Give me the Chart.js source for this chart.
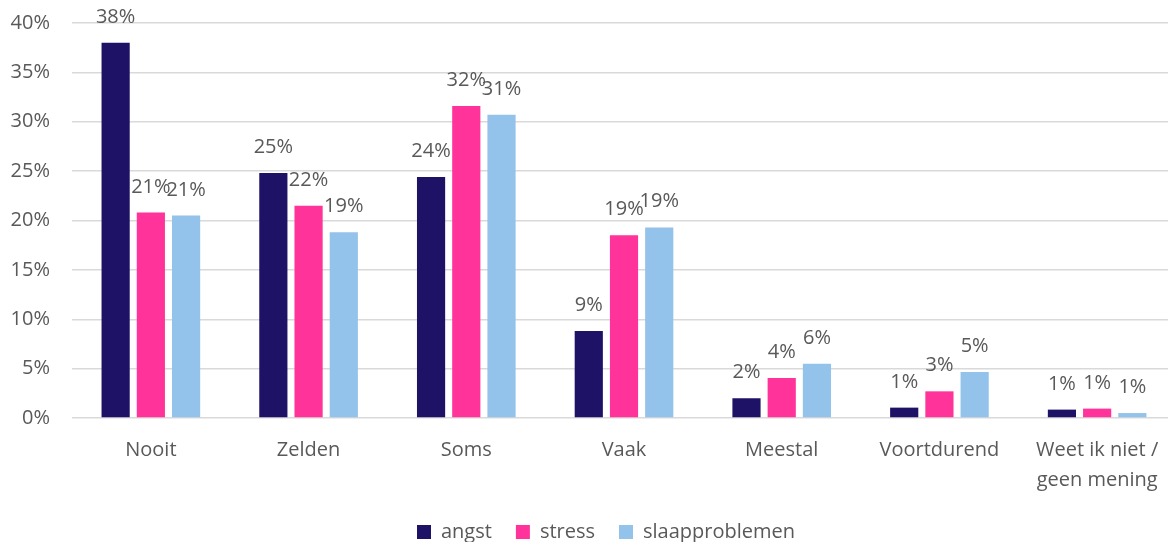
<!DOCTYPE html>
<html>
<head>
<meta charset="utf-8">
<script src="https://cdn.jsdelivr.net/npm/chart.js@4/dist/chart.umd.min.js"></script>
<style>
  html, body { margin: 0; padding: 0; background: #fff; overflow: hidden; }
  #wrap { width: 1176px; height: 542px; }
</style>
</head>
<body>
<div id="wrap"><canvas id="chart"></canvas></div>
<script>
const categories = ['Nooit', 'Zelden', 'Soms', 'Vaak', 'Meestal', 'Voortdurend', ['Weet ik niet /', 'geen mening']];
const angst = [38.0, 24.8, 24.4, 8.8, 2.0, 1.05, 0.85];
const stress = [20.8, 21.5, 31.6, 18.5, 4.06, 2.7, 0.95];
const slaapproblemen = [20.5, 18.8, 30.7, 19.3, 5.5, 4.67, 0.5];
const yTicks = [0, 5, 10, 15, 20, 25, 30, 35, 40];

const FONT = '"Open Sans", "Noto Sans", sans-serif';
const TEXT = '#595959';

// value labels above each bar
const valueLabels = {
  id: 'valueLabels',
  afterDatasetsDraw(chart) {
    const ctx = chart.ctx;
    ctx.save();
    ctx.font = '20px ' + FONT;
    ctx.fillStyle = TEXT;
    ctx.textAlign = 'center';
    ctx.textBaseline = 'alphabetic';
    chart.data.datasets.forEach((ds, i) => {
      chart.getDatasetMeta(i).data.forEach((bar, j) => {
        ctx.fillText(Math.round(ds.data[j]) + '%', bar.x, bar.y - 20);
      });
    });
    ctx.restore();
  }
};

// legend sits a bit right of centre in the original
const legendShift = {
  id: 'legendShift',
  afterLayout(chart) {
    if (!chart.legend) return;
    chart.legend.left += 18;
    chart.legend.right += 18;
  }
};

new Chart(document.getElementById('chart'), {
  type: 'bar',
  data: {
    labels: categories,
    datasets: [
      { label: 'angst', data: angst, backgroundColor: '#1D1266' },
      { label: 'stress', data: stress, backgroundColor: '#FF3399' },
      { label: 'slaapproblemen', data: slaapproblemen, backgroundColor: '#93C2EA' }
    ]
  },
  plugins: [valueLabels, legendShift],
  options: {
    responsive: true,
    maintainAspectRatio: false,
    animation: false,
    datasets: { bar: { categoryPercentage: 0.67, barPercentage: 0.8 } },
    layout: { padding: { top: 0, left: 0, right: 0, bottom: -10 } },
    plugins: {
      tooltip: { enabled: false },
      legend: {
        position: 'bottom',
        labels: {
          boxWidth: 14,
          boxHeight: 14,
          padding: 24,
          color: TEXT,
          font: { family: FONT, size: 20 }
        }
      }
    },
    scales: {
      x: {
        grid: { display: false },
        border: { display: false },
        afterFit: (scale) => { scale.height -= 6; },
        ticks: {
          color: TEXT,
          padding: 9,
          maxRotation: 0,
          font: { family: FONT, size: 20, lineHeight: 1.5 }
        }
      },
      y: {
        min: 0,
        max: 40,
        afterBuildTicks: (scale) => { scale.ticks = yTicks.map(v => ({ value: v })); },
        afterFit: (scale) => { scale.width = 72; },
        grid: { color: '#D9D9D9', lineWidth: 1.5, drawTicks: false },
        border: { display: false },
        ticks: {
          color: TEXT,
          padding: 22,
          font: { family: FONT, size: 20, lineHeight: 0.1 },
          callback: v => v + '%'
        }
      }
    }
  }
});
</script>
</body>
</html>
